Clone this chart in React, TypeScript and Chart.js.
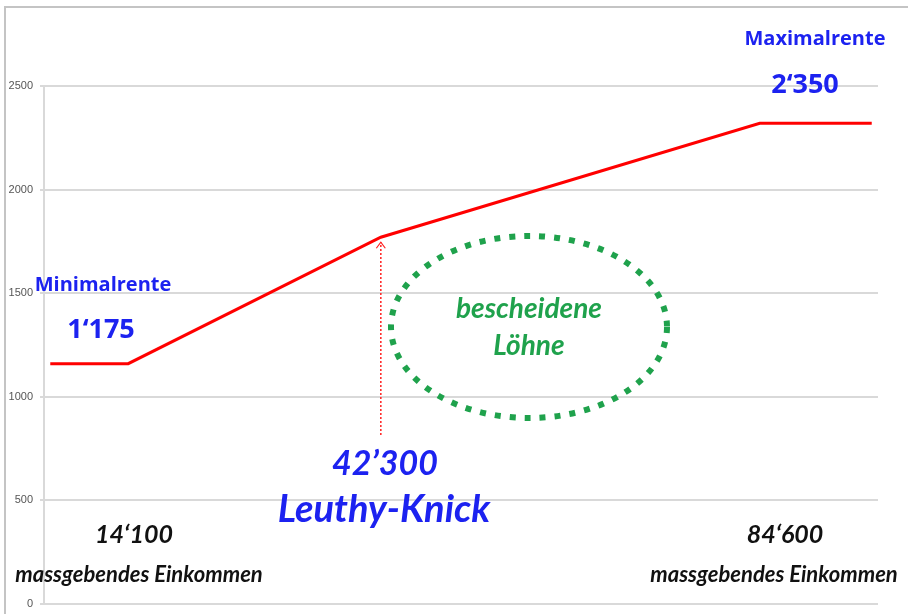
import React, { useEffect, useRef } from "react";
import { Chart, registerables } from "chart.js";

Chart.register(...registerables);

// Data (massgebendes Einkommen -> Rente)
const incomes = [5400, 14100, 42300, 84600, 97100];
const pensions = [1160, 1160, 1770, 2320, 2320];
const yTickMin = 0;
const yTickMax = 2500;
const yTickStep = 500;

const minLabel = ["Minimalrente", "1‘175"];
const maxLabel = ["Maximalrente", "2‘350"];
const knickLabel = ["42’300", "Leuthy-Knick"];
const knickIncome = 42300;
const lowIncomeLabel = ["14‘100", "massgebendes Einkommen"];
const highIncomeLabel = ["84‘600", "massgebendes Einkommen"];
const ellipseLabel = ["bescheidene", "Löhne"];

const BLUE = "#1c22f0";
const GREEN = "#1fa24c";

const annotationPlugin = {
  id: "annotations",
  beforeDraw(chart: any) {
    const ctx = chart.ctx;
    ctx.save();
    ctx.fillStyle = "#ffffff";
    ctx.fillRect(0, 0, chart.width, chart.height);
    ctx.strokeStyle = "#c4c4c4";
    ctx.lineWidth = 2;
    ctx.strokeRect(5, 7, chart.width + 10, chart.height + 10);
    ctx.restore();
  },
  afterDraw(chart: any) {
    const ctx = chart.ctx;
    const xs = chart.scales.x;
    const ys = chart.scales.y;
    ctx.save();
    ctx.textAlign = "center";
    ctx.textBaseline = "alphabetic";

    // Minimal / Maximal labels
    ctx.fillStyle = BLUE;
    ctx.font = "bold 20px 'Open Sans'";
    ctx.fillText(minLabel[0], 103, 291);
    ctx.fillText(maxLabel[0], 815, 45);
    ctx.font = "bold 27px 'Open Sans'";
    ctx.fillText(minLabel[1], 101, 338);
    ctx.fillText(maxLabel[1], 805, 93);

    // Knick arrow
    const kx = xs.getPixelForValue(knickIncome);
    const ky = ys.getPixelForValue(pensions[2]);
    ctx.strokeStyle = "#ff2020";
    ctx.lineWidth = 1.5;
    ctx.setLineDash([2, 2]);
    ctx.beginPath();
    ctx.moveTo(kx, 435);
    ctx.lineTo(kx, ky + 5);
    ctx.stroke();
    ctx.setLineDash([]);
    ctx.lineWidth = 1.2;
    ctx.beginPath();
    ctx.moveTo(kx - 4.5, ky + 11);
    ctx.lineTo(kx, ky + 5);
    ctx.lineTo(kx + 4.5, ky + 11);
    ctx.stroke();

    // Knick labels
    ctx.fillStyle = BLUE;
    ctx.font = "italic bold 34px Lato";
    ctx.fillText(knickLabel[0], 385, 475);
    ctx.font = "italic bold 38px Lato";
    ctx.fillText(knickLabel[1], 384, 522);

    // income labels
    ctx.fillStyle = "#111111";
    ctx.font = "italic bold 25px Lato";
    ctx.fillText(lowIncomeLabel[0], 134, 543);
    ctx.fillText(highIncomeLabel[0], 785, 543);
    ctx.font = "italic bold 22px Lato";
    ctx.fillText(lowIncomeLabel[1], 139, 582);
    ctx.fillText(highIncomeLabel[1], 774, 582);

    // Ellipse
    ctx.strokeStyle = GREEN;
    ctx.lineWidth = 6;
    ctx.setLineDash([6, 9]);
    ctx.beginPath();
    ctx.ellipse(529, 327, 138, 91, 0, 0, Math.PI * 2);
    ctx.stroke();
    ctx.setLineDash([]);
    ctx.fillStyle = GREEN;
    ctx.font = "italic bold 28px Lato";
    ctx.fillText(ellipseLabel[0], 529, 318);
    ctx.fillText(ellipseLabel[1], 529, 355);

    ctx.restore();
  },
};

export default function App() {
  const ref = useRef<HTMLCanvasElement>(null);
  useEffect(() => {
    const canvas = ref.current;
    if (!canvas) return;
    const chart = new Chart(canvas, {
      type: "line",
      data: {
        datasets: [
          {
            data: incomes.map((x, i) => ({ x, y: pensions[i] })),
            borderColor: "#ff0000",
            borderWidth: 3,
            pointRadius: 0,
            tension: 0,
            fill: false,
          },
        ],
      },
      options: {
        responsive: false,
        animation: false,
        devicePixelRatio: 1,
        layout: { padding: { left: 0, top: 86, right: 30, bottom: 10 } },
        plugins: { legend: { display: false }, tooltip: { enabled: false } },
        scales: {
          x: { type: "linear", min: 4700, max: 97800, display: false },
          y: {
            min: yTickMin,
            max: yTickMax,
            ticks: {
              stepSize: yTickStep,
              color: "#555555",
              font: { family: "'Liberation Sans'", size: 11 },
              padding: 7,
              callback: (v: any) => String(v),
            },
            grid: { color: "#d9d9d9", lineWidth: 2, tickLength: 4 },
            border: { color: "#d9d9d9", width: 2 },
            afterFit(scale: any) {
              scale.width = 44;
              scale.paddingTop = 0;
              scale.paddingBottom = 0;
            },
          },
        },
      },
      plugins: [annotationPlugin],
    });
    return () => chart.destroy();
  }, []);
  return (
    <div style={{ position: "absolute", left: 0, top: 0, width: 908, height: 614 }}>
      <canvas ref={ref} width={908} height={614} style={{ width: 908, height: 614 }} />
    </div>
  );
}
